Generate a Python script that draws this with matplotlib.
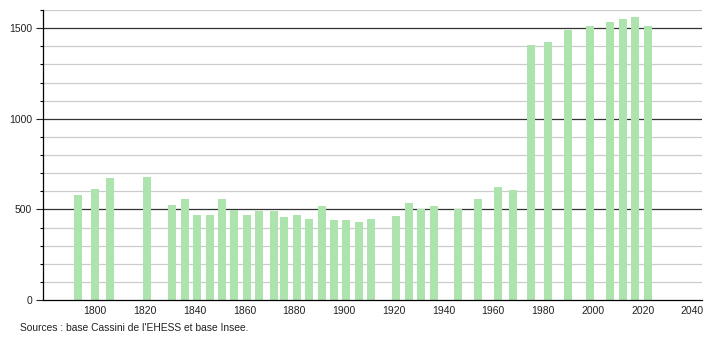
import matplotlib
matplotlib.use("Agg")
import matplotlib.pyplot as plt
from matplotlib.ticker import MultipleLocator

years = [1793, 1800, 1806, 1821, 1831, 1836, 1841, 1846, 1851, 1856,
         1861, 1866, 1872, 1876, 1881, 1886, 1891, 1896, 1901, 1906,
         1911, 1921, 1926, 1931, 1936, 1946, 1954, 1962, 1968, 1975,
         1982, 1990, 1999, 2007, 2012, 2017, 2022]
population = [581, 614, 675, 681, 526, 557, 470, 470, 557, 498,
              470, 489, 489, 459, 470, 448, 520, 439, 439, 432,
              448, 465, 537, 504, 520, 504, 557, 623, 607, 1406,
              1422, 1489, 1511, 1533, 1550, 1561, 1511]
x_ticks = [1800, 1820, 1840, 1860, 1880, 1900, 1920, 1940, 1960, 1980, 2000, 2020, 2040]
y_ticks = [0, 500, 1000, 1500]
source = "Sources : base Cassini de l'EHESS et base Insee."

plt.rcParams['font.family'] = ['Liberation Sans', 'DejaVu Sans']

fig = plt.figure(figsize=(7.1, 3.4), dpi=100)
ax = fig.add_axes([0.0606, 0.1176, 0.928, 0.853])

# minor and major horizontal grid
for v in range(100, 1700, 100):
    if v % 500 == 0:
        ax.axhline(v, color='#333333', lw=0.9, zorder=1)
    else:
        ax.axhline(v, color='#cccccc', lw=0.9, zorder=1)

ax.bar(years, population, width=3.2, color='#ade4ad', zorder=2)

ax.set_xlim(1779.1, 2043.8)
ax.set_ylim(0, 1600)
ax.set_xticks(x_ticks)
ax.set_yticks(y_ticks)
ax.yaxis.set_minor_locator(MultipleLocator(100))
ax.tick_params(axis='x', length=0, labelsize=7.5, colors='#222222', pad=4)
ax.tick_params(axis='y', which='major', length=5, width=0.8, labelsize=7.5,
               colors='#222222', pad=3)
ax.tick_params(axis='y', which='minor', length=2, width=0.8)
for s in ['top', 'right']:
    ax.spines[s].set_visible(False)
ax.spines['left'].set_linewidth(0.9)
ax.spines['bottom'].set_linewidth(0.9)

fig.text(20 / 710, 1 - 328 / 340, source, fontsize=7.4, color='#222222',
         va='center', ha='left')

fig.savefig("out.png", dpi=100)
